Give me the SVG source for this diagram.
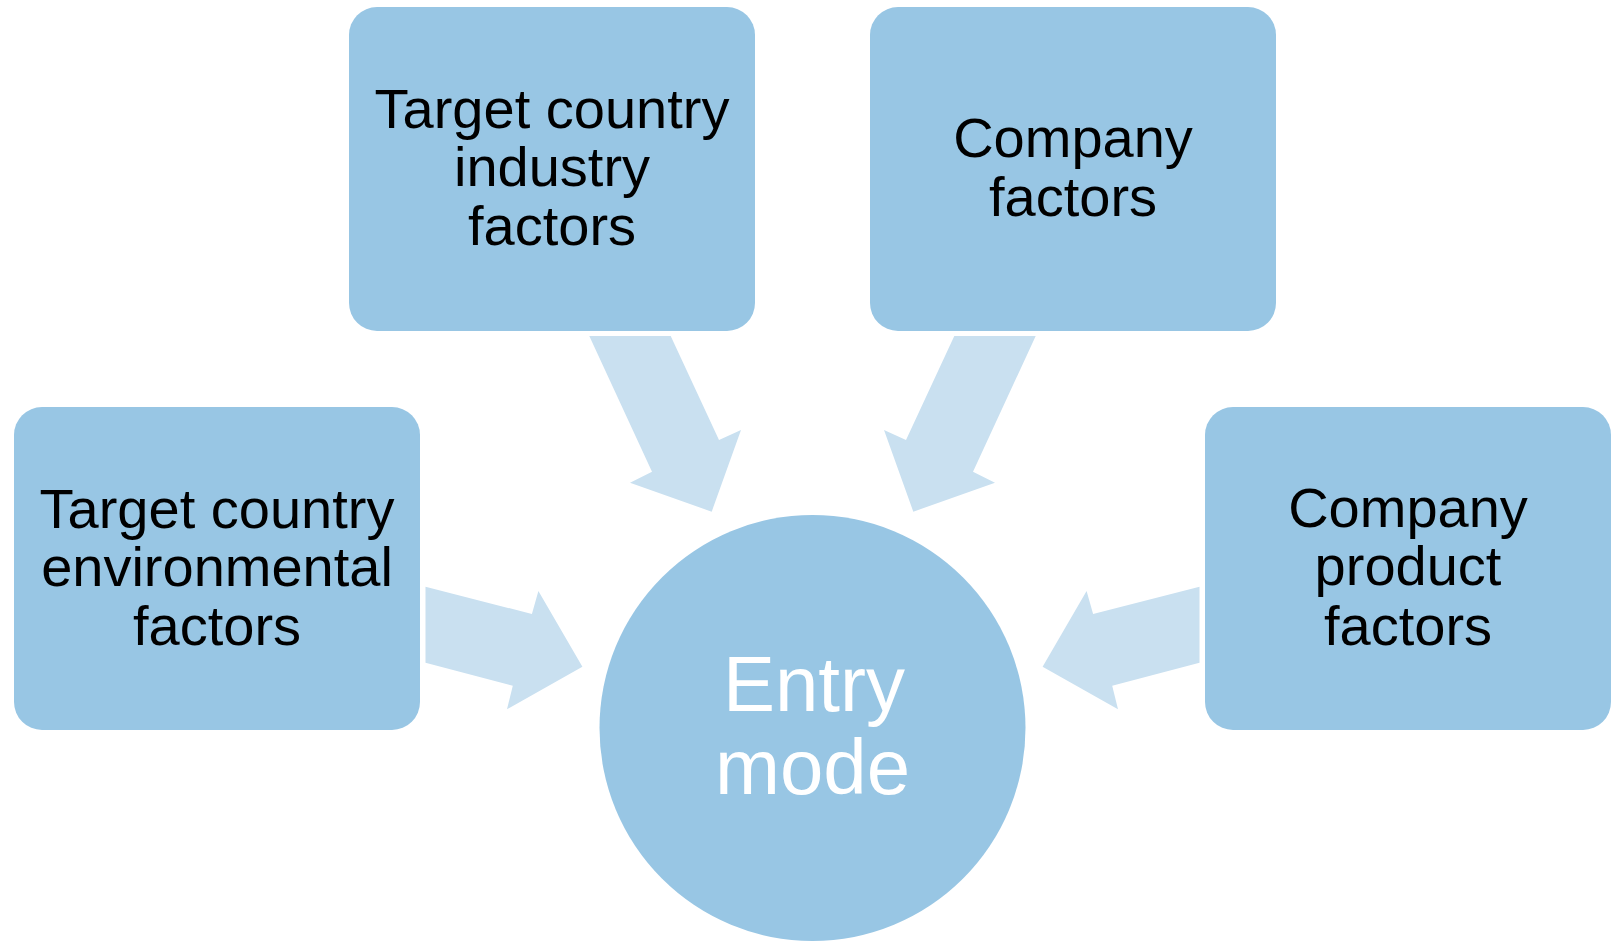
<svg xmlns="http://www.w3.org/2000/svg" width="1616" height="941" viewBox="0 0 1616 941">
  <style>
    .box { fill: #98C6E4; }
    .arrow { fill: #C9E0F0; }
    .lbl { font-family: "Liberation Sans", Arial, sans-serif; font-size: 56px; fill: #000000; text-anchor: middle; }
    .hub { font-family: "Liberation Sans", Arial, sans-serif; font-size: 78px; fill: #FFFFFF; text-anchor: middle; }
  </style>
  <rect width="1616" height="941" fill="#FFFFFF"/>

  <!-- block arrows pointing into the hub -->
  <g id="connectors">
    <polygon class="arrow" points="589.3,336 670.7,336 719,440 741,430 711.7,511.7 630,482.7 652,471.7"/>
    <polygon class="arrow" points="1035.7,336 954.3,336 906,440 884,430 913.3,511.7 995,482.7 973,471.7"/>
    <polygon class="arrow" points="425.5,586.7 531.9,614 538.4,591 582.4,666.7 507,709.3 512.8,685.7 425.5,662.7"/>
    <polygon class="arrow" points="1199.5,586.7 1093.1,614 1086.6,591 1042.6,666.7 1118,709.3 1112.2,685.7 1199.5,662.7"/>
  </g>

  <g id="env">
    <rect class="box" x="14" y="407" width="406" height="323" rx="28"/>
    <text class="lbl" x="217" y="527.7">Target country</text>
    <text class="lbl" x="217" y="586">environmental</text>
    <text class="lbl" x="217" y="645">factors</text>
  </g>

  <g id="industry">
    <rect class="box" x="349" y="7" width="406" height="324" rx="28"/>
    <text class="lbl" x="552" y="128">Target country</text>
    <text class="lbl" x="552" y="186">industry</text>
    <text class="lbl" x="552" y="245">factors</text>
  </g>

  <g id="company">
    <rect class="box" x="870" y="7" width="406" height="324" rx="28"/>
    <text class="lbl" x="1073" y="157">Company</text>
    <text class="lbl" x="1073" y="215.5">factors</text>
  </g>

  <g id="product">
    <rect class="box" x="1205" y="407" width="406" height="323" rx="28"/>
    <text class="lbl" x="1408" y="527">Company</text>
    <text class="lbl" x="1408" y="585">product</text>
    <text class="lbl" x="1408" y="645">factors</text>
  </g>

  <g id="entry-mode">
    <circle class="box" cx="812.5" cy="728" r="213"/>
    <text class="hub" x="814" y="710.7">Entry</text>
    <text class="hub" x="812.5" y="794">mode</text>
  </g>
</svg>
